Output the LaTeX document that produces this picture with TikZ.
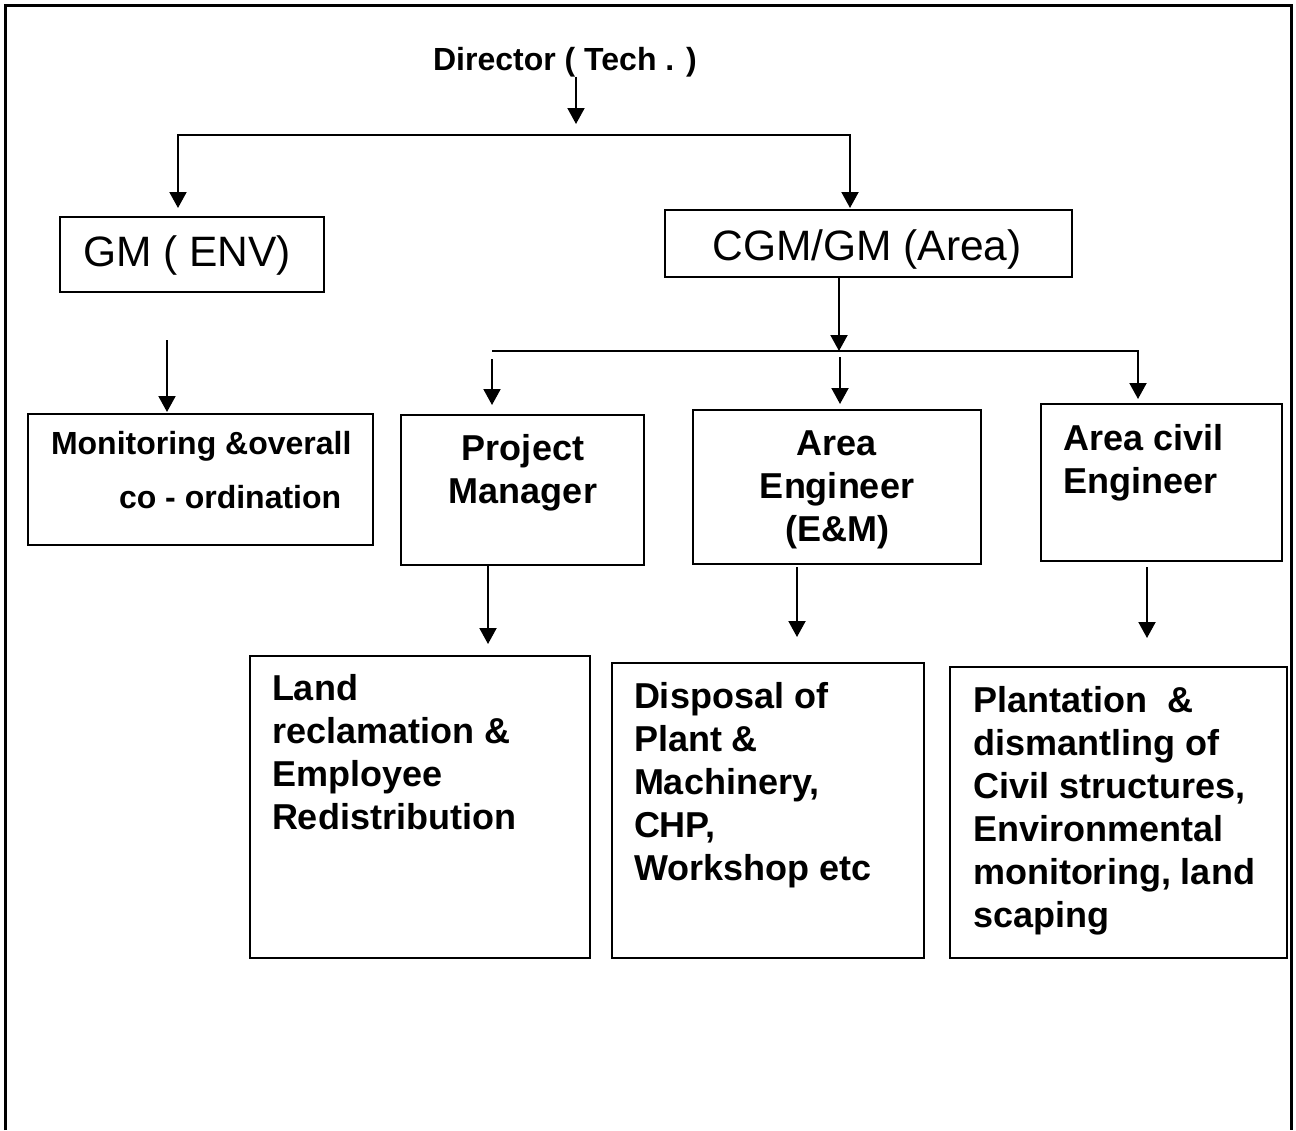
\documentclass[tikz,border=0pt]{standalone}
\usepackage{fontspec}
\setmainfont{Liberation Sans}
\usetikzlibrary{arrows.meta}
\newcommand\mlL[1]{\vtop{\baselineskip=43pt\halign{##\hfil\cr#1\crcr}}}
\newcommand\mlC[1]{\vtop{\baselineskip=43pt\halign{\hfil##\hfil\cr#1\crcr}}}
\begin{document}
\begin{tikzpicture}[x=1pt,y=-1pt,
  box/.style={draw,line width=2pt,inner sep=0pt,outer sep=0pt,anchor=north west},
  txt/.style={inner sep=0pt,outer sep=0pt},
  bigb/.style={font=\bfseries\fontsize{36}{43}\selectfont},
  midb/.style={font=\bfseries\fontsize{32}{38}\selectfont},
  reg/.style={font=\fontsize{42.5}{50}\selectfont},
  conn/.style={line width=2pt},
  arr/.style={line width=2pt,-{Triangle[length=16pt,width=17pt]}},
  darr/.style={line width=2pt,{Triangle[length=16pt,width=17pt]}-{Triangle[length=16pt,width=17pt]}}]
\useasboundingbox (0,0) rectangle (1296,1130);
% outer frame (open at bottom)
\draw[line width=3pt] (5,1130) -- (5,5) -- (1291,5) -- (1291,1130);

% boxes
\node[box,minimum width=264pt,minimum height=75pt] (gm) at (60,217) {};
\node[box,minimum width=407pt,minimum height=67pt] (cgm) at (665,210) {};
\node[box,minimum width=345pt,minimum height=131pt] (mon) at (28,414) {};
\node[box,minimum width=243pt,minimum height=150pt] (pm) at (401,415) {};
\node[box,minimum width=288pt,minimum height=154pt] (ae) at (693,410) {};
\node[box,minimum width=241pt,minimum height=157pt] (civ) at (1041,404) {};
\node[box,minimum width=340pt,minimum height=302pt] (land) at (250,656) {};
\node[box,minimum width=312pt,minimum height=295pt] (disp) at (612,663) {};
\node[box,minimum width=337pt,minimum height=291pt] (plant) at (950,667) {};

% texts
\node[txt,midb,anchor=base] (dir) at (565,70) {Director ( Tech . )};
\node[txt,reg,anchor=base] (gmt) at (187,266) {GM ( ENV)};
\node[txt,reg,anchor=base] (cgmt) at (867,260) {CGM/GM (Area)};
\node[txt,midb,anchor=base west] (mon1) at (51,454) {Monitoring \&overall};
\node[txt,midb,anchor=base west] (mon2) at (119,508) {co - ordination};
\node[txt,bigb,anchor=base] (pmt) at (523,460) {\mlC{Project\cr Manager}};
\node[txt,bigb,anchor=base] (aet) at (837,455) {\mlC{Area\cr Engineer\cr (E\&M)}};
\node[txt,bigb,anchor=base west] (civt) at (1063,450) {\mlL{Area civil\cr Engineer}};
\node[txt,bigb,anchor=base west] (landt) at (272,700) {\mlL{Land\cr reclamation \&\cr Employee\cr Redistribution}};
\node[txt,bigb,anchor=base west] (dispt) at (634,708) {\mlL{Disposal of\cr Plant \&\cr Machinery,\cr CHP,\cr Workshop etc}};
\node[txt,bigb,anchor=base west] (plantt) at (973,712) {\mlL{Plantation\ \ \&\cr dismantling of\cr Civil structures,\cr Environmental\cr monitoring, land\cr scaping}};

% connector points
\coordinate (d1) at (576,124);
\coordinate (bl) at (178,135);
\coordinate (br) at (850,135);
\coordinate (gmin) at (178,208);
\coordinate (cgmin) at (850,208);
\coordinate (m0) at (167,340);
\coordinate (m1) at (167,412);
\coordinate (c1) at (839,351);
\coordinate (h1) at (492,351);
\coordinate (h2) at (1138,351);
\coordinate (civin) at (1138,399);
\coordinate (p0) at (492,359);
\coordinate (p1) at (492,405);
\coordinate (a0) at (840,357);
\coordinate (a1) at (840,404);
\coordinate (l1) at (488,644);
\coordinate (e0) at (797,567);
\coordinate (e1) at (797,637);
\coordinate (v0) at (1147,567);
\coordinate (v1) at (1147,638);

% connectors
\draw[arr] (dir.south -| d1) -- (d1);
\draw[darr] (gmin) -- (bl) -- (br) -- (cgmin);
\draw[arr] (m0) -- (m1);
\draw[arr] (cgm.south -| c1) -- (c1);
\draw[arr] (h1) -- (h2) -- (civin);
\draw[arr] (p0) -- (p1);
\draw[arr] (a0) -- (a1);
\draw[arr] (pm.south -| l1) -- (l1);
\draw[arr] (e0) -- (e1);
\draw[arr] (v0) -- (v1);
\end{tikzpicture}
\end{document}
